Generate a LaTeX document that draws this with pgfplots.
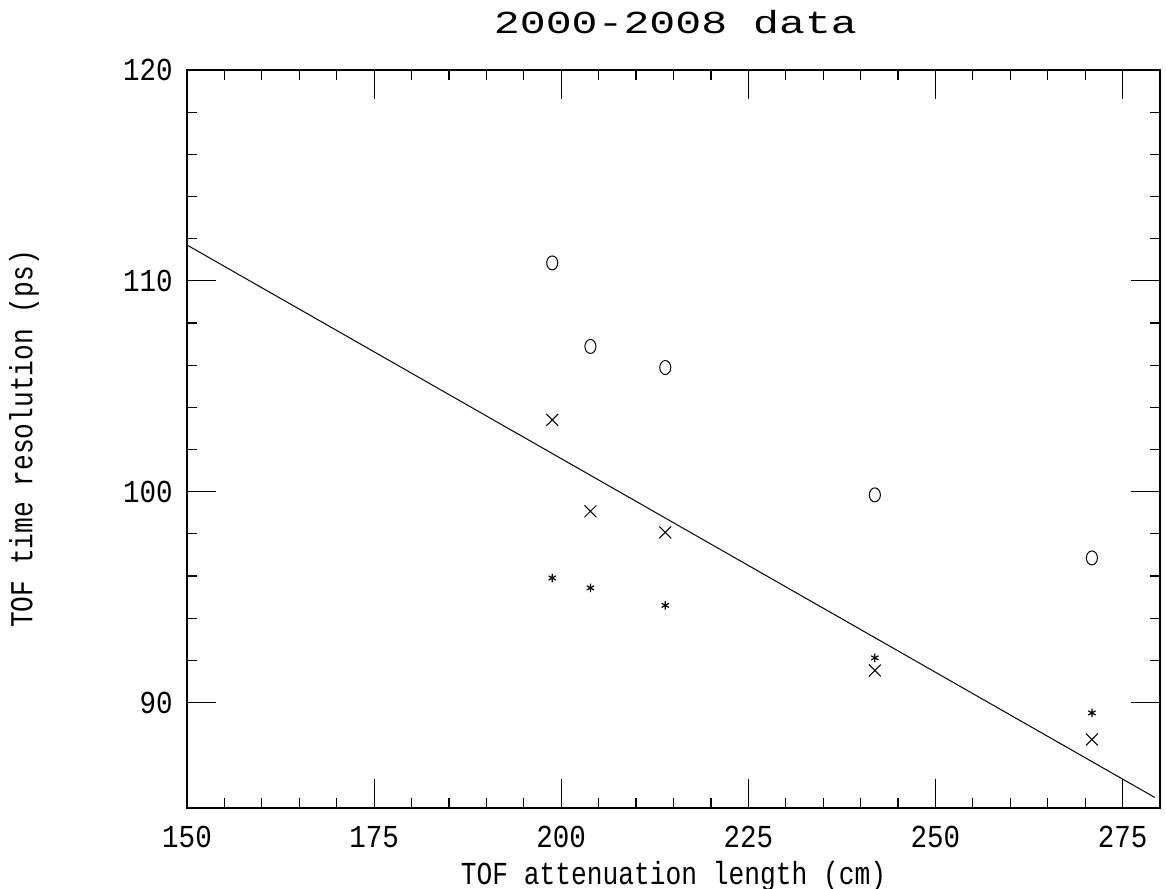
\documentclass[border=0pt]{standalone}
\usepackage{fontspec}
\setmainfont{Liberation Mono}
\usepackage{graphicx}
\usepackage{pgfplots}
\pgfplotsset{compat=1.18}
\newcommand{\tl}[1]{\scalebox{0.86}[1]{#1}}
\newcommand{\al}[1]{\scalebox{0.82}[1]{#1}}
\begin{document}
\begin{tikzpicture}
\begin{axis}[
  name=ax,
  scale only axis, width=486.5pt, height=369pt,
  xmin=150, xmax=280, ymin=85, ymax=120,
  xtick={150,175,200,225,250,275}, ytick={90,100,110,120},
  minor x tick num=4, minor y tick num=4,
  tick align=inside, tick pos=both,
  major tick length=14.5pt, minor tick length=5pt,
  every tick/.style={black, line width=0.6pt},
  axis line style={line width=0.8pt},
  /pgf/number format/assume math mode=true,
  xticklabel={\tl{\pgfmathprintnumber{\tick}}},
  yticklabel={\tl{\pgfmathprintnumber{\tick}}},
  xticklabel style={font=\fontsize{16pt}{16pt}\selectfont, anchor=base, inner sep=0pt, yshift=-19.5pt},
  yticklabel style={font=\fontsize{16pt}{16pt}\selectfont, anchor=east, inner sep=0pt, xshift=-7pt},
  title={\scalebox{1.35}[1]{2000-2008 data}},
  every axis title/.style={at={(axis description cs:0.502,1.0501)}, anchor=base, inner sep=0pt, font=\fontsize{16pt}{16pt}\selectfont},
  xlabel={\al{TOF attenuation length (cm)}},
  every axis x label/.style={at={(axis description cs:0.5,-0.1043)}, anchor=base, inner sep=0pt, font=\fontsize{16pt}{16pt}\selectfont},
  ylabel={\al{TOF time resolution (ps)}},
  every axis y label/.style={at={(axis description cs:-0.1675,0.5)}, rotate=90, anchor=center, inner sep=0pt, font=\fontsize{16pt}{16pt}\selectfont},
  clip=false,
]
\addplot[black, line width=0.5pt] coordinates {(150,111.7) (279.3,85.5)};
\addplot[only marks, mark=o, mark size=3.5pt, mark options={xscale=0.79, line width=0.5pt, black}]
  coordinates {(198.8,110.85) (203.9,106.89) (213.9,105.89) (241.9,99.85) (270.9,96.86)};
\addplot[only marks, mark=x, mark size=4.2pt, mark options={line width=0.5pt, black}]
  coordinates {(198.8,103.41) (203.9,99.07) (213.9,98.07) (241.9,91.52) (270.9,88.25)};
\addplot[only marks, mark=asterisk, mark size=2.1pt, mark options={line width=0.6pt, black}]
  coordinates {(198.8,95.91) (203.9,95.44) (213.9,94.61) (241.9,92.12) (270.9,89.51)};
\end{axis}
\pgfresetboundingbox
\path ([shift={(-93.5pt,-40pt)}]ax.south west) rectangle ([shift={(3pt,35pt)}]ax.north east);
\end{tikzpicture}
\end{document}
